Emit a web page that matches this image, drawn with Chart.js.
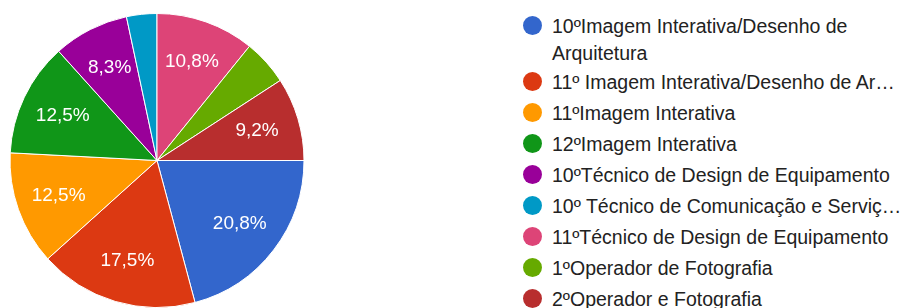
<!DOCTYPE html>
<html>
<head>
<meta charset="utf-8">
<script src="https://cdn.jsdelivr.net/npm/chart.js@4.4.1/dist/chart.umd.min.js"></script>
<style>
  html, body { margin: 0; padding: 0; background: #fff; }
  body { width: 904px; height: 308px; position: relative; overflow: hidden; font-family: "Liberation Sans", Arial, sans-serif; }
  #pie { position: absolute; left: 0; top: 0; }
  #legend { position: absolute; left: 522px; top: 13px; width: 382px; margin: 0; padding: 0; list-style: none; }
  #legend li { position: relative; padding-left: 30px; font-size: 19.5px; line-height: 26px; color: #222; margin-bottom: 5px; }
  #legend li.cut { white-space: nowrap; overflow: hidden; text-overflow: ellipsis; }
  #legend li.wrap { width: 330px; line-height: 27px; margin-bottom: 2px; }
  #legend .dot { position: absolute; left: 1px; top: 3px; width: 19px; height: 19px; border-radius: 50%; }
  #legend li.wrap .dot { top: 3px; }
</style>
</head>
<body>
<canvas id="pie" width="320" height="308"></canvas>
<ul id="legend"></ul>
<script>
const categories = [
  '10ºImagem Interativa/Desenho de Arquitetura',
  '11º Imagem Interativa/Desenho de Arquitetura',
  '11ºImagem Interativa',
  '12ºImagem Interativa',
  '10ºTécnico de Design de Equipamento',
  '10º Técnico de Comunicação e Serviço Digital',
  '11ºTécnico de Design de Equipamento',
  '1ºOperador de Fotografia',
  '2ºOperador e Fotografia'
];
const responses = [25, 21, 15, 15, 10, 4, 13, 6, 11];
const colors = ['#3366cc', '#dc3912', '#ff9900', '#109618', '#990099', '#0099c6', '#dd4477', '#66aa00', '#b82e2e'];

const total = responses.reduce((a, b) => a + b, 0);

// percentage text drawn inside the bigger slices
const sliceText = {
  id: 'sliceText',
  afterDatasetsDraw(chart) {
    const ctx = chart.ctx;
    const arcs = chart.getDatasetMeta(0).data;
    ctx.save();
    ctx.fillStyle = '#fff';
    ctx.font = '19px "Liberation Sans", Arial, sans-serif';
    ctx.textAlign = 'center';
    ctx.textBaseline = 'middle';
    arcs.forEach((arc, i) => {
      const pct = responses[i] / total * 100;
      if (pct < 7) return;
      const mid = (arc.startAngle + arc.endAngle) / 2;
      const r = arc.outerRadius * 0.71;
      const x = arc.x + Math.cos(mid) * r;
      const y = arc.y + Math.sin(mid) * r;
      ctx.fillText(pct.toFixed(1).replace('.', ',') + '%', x, y);
    });
    ctx.restore();
  }
};

new Chart(document.getElementById('pie'), {
  type: 'pie',
  data: {
    labels: categories,
    datasets: [{
      data: responses,
      backgroundColor: colors,
      borderColor: '#fff',
      borderWidth: 1
    }]
  },
  options: {
    responsive: false,
    animation: false,
    rotation: 90,
    layout: { padding: { left: 9, right: 15, top: 13, bottom: 0 } },
    plugins: {
      legend: { display: false },
      tooltip: { enabled: false }
    }
  },
  plugins: [sliceText]
});

const legend = document.getElementById('legend');
categories.forEach((name, i) => {
  const li = document.createElement('li');
  li.className = i === 0 ? 'wrap' : 'cut';
  const dot = document.createElement('span');
  dot.className = 'dot';
  dot.style.background = colors[i];
  li.appendChild(dot);
  li.appendChild(document.createTextNode(name));
  legend.appendChild(li);
});
</script>
</body>
</html>
